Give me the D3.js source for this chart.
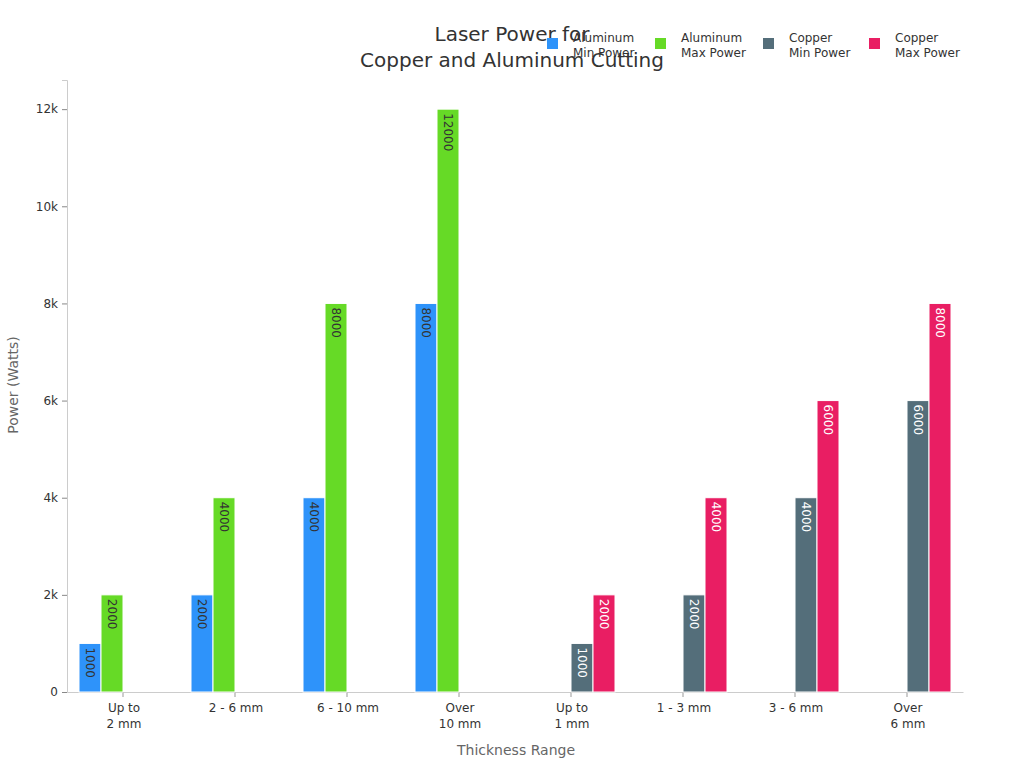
<!DOCTYPE html>
<html>
<head>
<meta charset="utf-8">
<script src="https://cdn.jsdelivr.net/npm/d3@7"></script>
<style>
  body { margin: 0; background: #fff; font-family: "DejaVu Sans", sans-serif; }
</style>
</head>
<body>
<script>
// data
var categories = ["Up to\n2 mm", "2 - 6 mm", "6 - 10 mm", "Over\n10 mm",
                  "Up to\n1 mm", "1 - 3 mm", "3 - 6 mm", "Over\n6 mm"];
var seriesNames = ["Aluminum\nMin Power", "Aluminum\nMax Power", "Copper\nMin Power", "Copper\nMax Power"];
var aluMin = [1000, 2000, 4000, 8000, null, null, null, null];
var aluMax = [2000, 4000, 8000, 12000, null, null, null, null];
var cuMin = [null, null, null, null, 1000, 2000, 4000, 6000];
var cuMax = [null, null, null, null, 2000, 4000, 6000, 8000];
var yTicks = [0, 2000, 4000, 6000, 8000, 10000, 12000];

var colors = ["#2E93FA", "#66DA26", "#546E7A", "#E91E63"];
var labelColors = ["#333", "#333", "#fff", "#fff"];
var series = [aluMin, aluMax, cuMin, cuMax];

var W = 1024, H = 768;
var margin = {top: 80, right: 61, bottom: 76, left: 67};
var width = W - margin.left - margin.right,
    height = H - margin.top - margin.bottom;

var svg = d3.select("body").append("svg")
    .attr("width", W).attr("height", H);

var g = svg.append("g")
    .attr("transform", "translate(" + margin.left + "," + margin.top + ")");

var x0 = d3.scaleBand().domain(d3.range(categories.length)).range([0, width]);
var x1 = d3.scaleBand().domain(d3.range(series.length)).range([12, x0.bandwidth() - 12]);
var y = d3.scaleLinear().domain([0, 12600]).range([height, 0]);

// y axis
var yAxis = g.append("g")
    .call(d3.axisLeft(y).tickValues(yTicks).tickSize(5).tickPadding(4)
      .tickFormat(function(d) { return d === 0 ? "0" : (d / 1000) + "k"; }));
yAxis.select(".domain").attr("stroke", "#ccc");
yAxis.selectAll(".tick line").attr("stroke", "#888");
yAxis.selectAll("text").attr("fill", "#333").style("font-size", "12px").style("font-family", "DejaVu Sans");

// x axis
var xAxis = g.append("g")
    .attr("transform", "translate(0," + height + ")")
    .call(d3.axisBottom(x0).tickSize(5).tickSizeOuter(0).tickFormat(""));
xAxis.select(".domain").attr("stroke", "#ccc");
xAxis.selectAll(".tick line").attr("stroke", "#999");
xAxis.selectAll(".tick").each(function(d) {
  var lines = categories[d].split("\n");
  var t = d3.select(this).append("text")
      .attr("x", 1)
      .attr("fill", "#333").attr("text-anchor", "middle")
      .style("font-size", "12px").style("font-family", "DejaVu Sans");
  lines.forEach(function(l, i) {
    t.append("tspan").attr("x", 1).attr("y", 20 + i * 16).text(l);
  });
});

// bars
series.forEach(function(vals, si) {
  var bars = g.append("g");
  vals.forEach(function(v, ci) {
    if (v == null) return;
    var bx = x0(ci) + x1(si);
    bars.append("rect")
      .attr("x", bx).attr("y", y(v))
      .attr("width", x1.bandwidth()).attr("height", height - y(v))
      .attr("fill", colors[si]).attr("stroke", "#fff").attr("stroke-width", 1);
    bars.append("text")
      .attr("transform", "translate(" + (bx + x1.bandwidth() / 2) + "," + (y(v) + 4) + ") rotate(90)")
      .attr("dy", "0.35em")
      .attr("fill", labelColors[si])
      .style("font-size", "12px").style("font-family", "DejaVu Sans")
      .text(v);
  });
});

// axis titles
svg.append("text")
  .attr("transform", "translate(18," + (margin.top + height / 2 - 1) + ") rotate(-90)")
  .attr("text-anchor", "middle").attr("fill", "#666")
  .style("font-size", "14px").text("Power (Watts)");
svg.append("text")
  .attr("x", margin.left + width / 2 + 1).attr("y", 755)
  .attr("text-anchor", "middle").attr("fill", "#666")
  .style("font-size", "14px").text("Thickness Range");

// title
var title = svg.append("text").attr("text-anchor", "middle").attr("fill", "#333").style("font-size", "20px");
title.append("tspan").attr("x", 512).attr("y", 41).text("Laser Power for");
title.append("tspan").attr("x", 512).attr("y", 67).text("Copper and Aluminum Cutting");

// legend
var legendX = [547, 655, 763, 869];
seriesNames.forEach(function(n, i) {
  var lg = svg.append("g").attr("transform", "translate(" + legendX[i] + ",38)");
  lg.append("rect").attr("width", 11).attr("height", 11).attr("fill", colors[i]);
  var t = lg.append("text").attr("fill", "#333").style("font-size", "12px");
  n.split("\n").forEach(function(l, j) {
    t.append("tspan").attr("x", 26).attr("y", 4 + j * 15).text(l);
  });
});
</script>
</body>
</html>
